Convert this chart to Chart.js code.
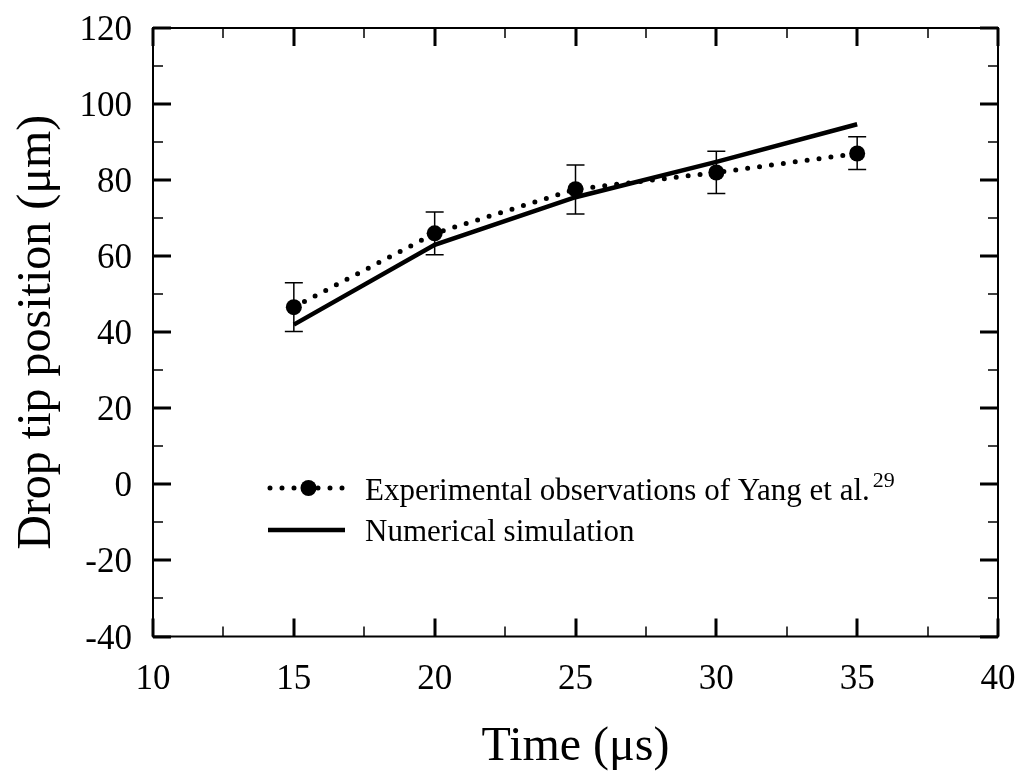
<!DOCTYPE html>
<html>
<head>
<meta charset="utf-8">
<script src="https://cdn.jsdelivr.net/npm/chart.js@4/dist/chart.umd.min.js"></script>
<style>
  html, body { margin: 0; padding: 0; background: #fff; }
  #wrap { width: 1023px; height: 780px; position: relative; }
</style>
</head>
<body>
<div id="wrap"><canvas id="c" width="1023" height="780"></canvas></div>
<script>
const timeValues = [15, 20, 25, 30, 35];
const experimental = [46.6, 66, 77.6, 82, 87];
const errLow = [40.2, 60.4, 71.1, 76.5, 82.8];
const errHigh = [53, 71.6, 84, 87.6, 91.4];
const simulation = [42, 63, 75.5, 84.8, 94.7];
const xTicks = [10, 15, 20, 25, 30, 35, 40];
const yTicks = [-40, -20, 0, 20, 40, 60, 80, 100, 120];
const legendLabels = ['Experimental observations of Yang et al.', 'Numerical simulation'];
const legendSup = '29';
const xTitle = 'Time (μs)';
const yTitle = 'Drop tip position (μm)';

const FONT = '"Liberation Serif", "Times New Roman", serif';

const framePlugin = {
  id: 'frame',
  beforeDatasetsDraw(chart) {
    const ctx = chart.ctx;
    const xs = chart.scales.x, ys = chart.scales.y;
    ctx.save();
    ctx.strokeStyle = '#000';
    ctx.lineWidth = 1.5;
    for (let i = 0; i < timeValues.length; i++) {
      const px = xs.getPixelForValue(timeValues[i]);
      const yl = ys.getPixelForValue(errLow[i]);
      const yh = ys.getPixelForValue(errHigh[i]);
      ctx.beginPath();
      ctx.moveTo(px, yl); ctx.lineTo(px, yh);
      ctx.moveTo(px - 9, yl); ctx.lineTo(px + 9, yl);
      ctx.moveTo(px - 9, yh); ctx.lineTo(px + 9, yh);
      ctx.stroke();
    }
    ctx.restore();
  },
  afterDraw(chart) {
    const ctx = chart.ctx;
    const xs = chart.scales.x, ys = chart.scales.y;
    const a = chart.chartArea;
    ctx.save();
    ctx.strokeStyle = '#000';
    ctx.fillStyle = '#000';
    const drawXT = (v, len, w) => {
      const px = Math.round(xs.getPixelForValue(v));
      ctx.lineWidth = w;
      ctx.beginPath();
      ctx.moveTo(px, a.bottom); ctx.lineTo(px, a.bottom - len);
      ctx.moveTo(px, a.top); ctx.lineTo(px, a.top + len);
      ctx.stroke();
    };
    const drawYT = (v, len, w) => {
      const py = Math.round(ys.getPixelForValue(v));
      ctx.lineWidth = w;
      ctx.beginPath();
      ctx.moveTo(a.left, py); ctx.lineTo(a.left + len, py);
      ctx.moveTo(a.right, py); ctx.lineTo(a.right - len, py);
      ctx.stroke();
    };
    for (let i = 0; i < xTicks.length; i++) {
      drawXT(xTicks[i], 18, 3);
      if (i < xTicks.length - 1) drawXT((xTicks[i] + xTicks[i + 1]) / 2, 10, 1.5);
    }
    for (let i = 0; i < yTicks.length; i++) {
      drawYT(yTicks[i], 18, 3);
      if (i < yTicks.length - 1) drawYT((yTicks[i] + yTicks[i + 1]) / 2, 10, 1.5);
    }
    ctx.lineWidth = 2;
    ctx.strokeRect(a.left, a.top, a.right - a.left, a.bottom - a.top);

    // tick labels from the scales' ticks
    ctx.font = '35px ' + FONT;
    ctx.textBaseline = 'alphabetic';
    ctx.textAlign = 'center';
    xs.ticks.forEach(t => {
      ctx.fillText(String(t.value), xs.getPixelForValue(t.value), 689);
    });
    ctx.textAlign = 'right';
    ys.ticks.forEach(t => {
      ctx.fillText(String(t.value), a.left - 21, ys.getPixelForValue(t.value) + 12);
    });

    // axis titles
    ctx.font = '48px ' + FONT;
    ctx.textAlign = 'center';
    ctx.fillText(xTitle, (a.left + a.right) / 2, 760);
    ctx.save();
    ctx.translate(50, (a.top + a.bottom) / 2);
    ctx.rotate(-Math.PI / 2);
    ctx.fillText(yTitle, 0, 0);
    ctx.restore();

    // legend
    const lx0 = 268, lx1 = 345;
    const r1 = 488, r2 = 530;
    ctx.lineCap = 'round';
    ctx.lineWidth = 5;
    ctx.setLineDash([0, 12]);
    ctx.beginPath(); ctx.moveTo(lx0 + 2, r1); ctx.lineTo(lx1, r1); ctx.stroke();
    ctx.setLineDash([]);
    ctx.beginPath(); ctx.arc((lx0 + lx1) / 2 + 2, r1, 8, 0, Math.PI * 2); ctx.fill();
    ctx.lineCap = 'butt';
    ctx.lineWidth = 4.5;
    ctx.beginPath(); ctx.moveTo(lx0, r2); ctx.lineTo(lx1, r2); ctx.stroke();
    ctx.font = '31px ' + FONT;
    ctx.textAlign = 'left';
    ctx.fillText(legendLabels[0], 365, 500);
    const w0 = ctx.measureText(legendLabels[0]).width;
    ctx.font = '22px ' + FONT;
    ctx.fillText(legendSup, 365 + w0 + 3, 487);
    ctx.font = '31px ' + FONT;
    ctx.fillText(legendLabels[1], 365, 541);
    ctx.restore();
  }
};

new Chart(document.getElementById('c'), {
  type: 'scatter',
  data: {
    datasets: [
      {
        label: legendLabels[0],
        data: timeValues.map((t, i) => ({ x: t, y: experimental[i] })),
        showLine: true,
        borderColor: '#000',
        backgroundColor: '#000',
        borderWidth: 5,
        borderDash: [0, 12],
        borderCapStyle: 'round',
        pointRadius: 8,
        pointHoverRadius: 8,
        pointBorderWidth: 0,
        order: 1
      },
      {
        label: legendLabels[1],
        data: timeValues.map((t, i) => ({ x: t, y: simulation[i] })),
        showLine: true,
        borderColor: '#000',
        backgroundColor: '#000',
        borderWidth: 4.5,
        pointRadius: 0,
        pointHoverRadius: 0,
        order: 2
      }
    ]
  },
  options: {
    responsive: false,
    animation: false,
    events: [],
    layout: { padding: { top: 28, right: 25, left: 0, bottom: 0 } },
    plugins: {
      legend: { display: false },
      tooltip: { enabled: false }
    },
    scales: {
      x: {
        type: 'linear',
        min: 10, max: 40,
        afterBuildTicks(s) { s.ticks = xTicks.map(v => ({ value: v })); },
        afterFit(s) { s.height = 143.5; },
        grid: { display: false, drawTicks: false },
        border: { display: false },
        ticks: { display: false },
        title: { display: false }
      },
      y: {
        type: 'linear',
        min: -40, max: 120,
        afterBuildTicks(s) { s.ticks = yTicks.map(v => ({ value: v })); },
        afterFit(s) { s.width = 153; },
        grid: { display: false, drawTicks: false },
        border: { display: false },
        ticks: { display: false },
        title: { display: false }
      }
    }
  },
  plugins: [framePlugin]
});
</script>
</body>
</html>
